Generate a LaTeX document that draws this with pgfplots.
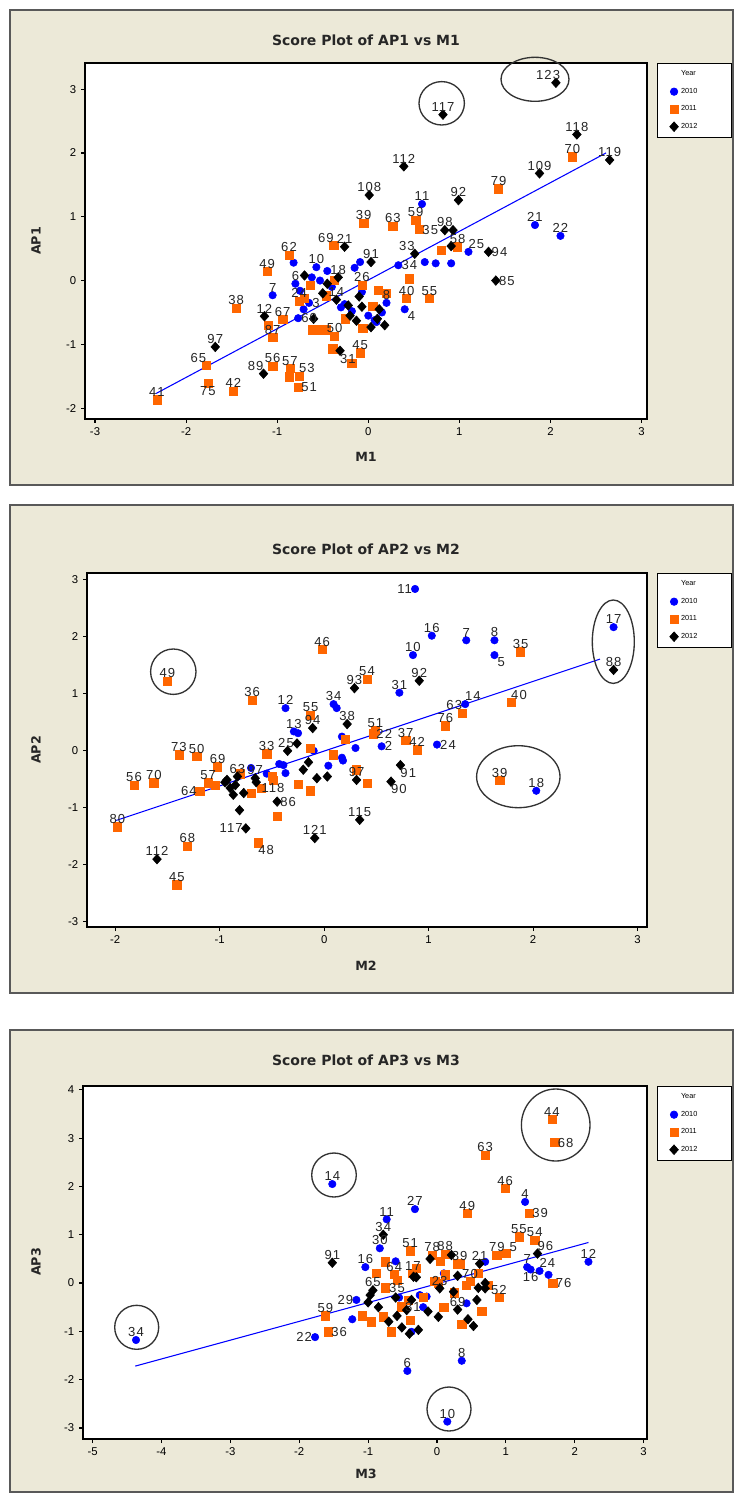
\documentclass[border=0pt]{standalone}
\usepackage{fontspec}
\setmainfont{Liberation Sans}
\newfontfamily\labfont{Liberation Sans}[LetterSpace=8]
\newfontfamily\ttlfont{DejaVu Sans}
\usepackage{pgfplots}
\pgfplotsset{compat=1.18}
\usepackage{pgfplotstable}
\definecolor{mtblue}{RGB}{0,0,255}
\definecolor{mtorange}{RGB}{255,102,0}
\definecolor{framebg}{RGB}{236,233,216}

% label anchor column a: angle of the anchor on the label border
% -90 = label above, 180 = label right, 0 = label left, 90 = label below

% ---------------- Panel 1 data ----------------
\pgfplotstableread{
x y l a
0.59 1.20 11 -90
1.83 0.87 21 -90
2.11 0.70 22 -90
1.10 0.45 25 -135
0.40 -0.45 4 135
-1.05 -0.23 7 -90
0.62 0.29 {} -90
0.74 0.27 {} -90
0.91 0.27 {} -90
0.33 0.24 34 180
-0.09 0.29 {} -90
-0.07 -0.18 {} -90
-0.82 0.28 {} -90
-0.75 -0.16 {} -90
-0.71 -0.45 {} -90
-0.77 -0.59 60 180
-0.57 0.21 10 -90
-0.53 0.00 {} -90
-0.26 -0.37 {} -90
0.07 -0.62 {} -90
0.09 -0.65 {} -90
-0.30 -0.42 {} -90
-0.18 -0.48 {} -90
-0.45 0.15 {} -90
-0.62 0.05 {} -90
0.15 -0.50 {} -90
-0.80 -0.05 6 -90
-0.65 -0.35 3 180
-0.40 -0.10 {} -90
0.00 -0.55 {} -90
-0.15 0.20 {} -90
0.20 -0.35 8 -90
}\pAten
\pgfplotstableread{
x y l a
2.24 1.94 70 -90
1.43 1.44 79 -90
-0.05 0.90 39 -90
0.27 0.85 63 -90
0.52 0.95 59 -90
0.56 0.80 35 180
0.80 0.48 {} -90
0.98 0.53 58 -90
0.42 -0.28 40 -90
0.67 -0.28 55 -90
0.45 0.03 {} -90
0.11 -0.15 {} -90
-0.07 -0.07 26 -90
-0.06 -0.75 {} -90
-0.09 -1.13 45 -90
-0.18 -1.30 {} -90
-0.39 -1.06 {} -90
-2.32 -1.87 41 -90
-1.76 -1.61 75 90
-1.78 -1.33 65 -45
-1.48 -1.73 42 -90
-1.45 -0.43 38 -90
-1.05 -1.34 56 -90
-0.87 -1.51 {} -90
-0.86 -1.38 57 -90
-0.77 -1.67 51 180
-0.76 -1.50 53 -135
-1.05 -0.89 87 -90
-1.10 -0.70 {} -90
-1.11 0.14 49 -90
-0.94 -0.61 67 -90
-0.87 0.40 62 -90
-0.76 -0.32 24 -90
-0.64 -0.07 {} -90
-0.46 -0.24 {} -90
-0.37 0.01 {} -90
-0.38 0.55 69 -45
-0.61 -0.77 {} -90
-0.53 -0.77 {} -90
-0.46 -0.77 {} -90
-0.37 -0.87 50 -90
-0.39 -1.08 {} -90
-0.70 -0.28 {} -90
0.20 -0.20 {} -90
-0.25 -0.60 {} -90
0.05 -0.40 {} -90
}\pAeleven
\pgfplotstableread{
x y l a
2.06 3.10 123 -45
0.82 2.60 117 -90
2.29 2.29 118 -90
2.65 1.89 119 -90
1.88 1.68 109 -90
0.39 1.79 112 -90
0.01 1.34 108 -90
0.99 1.26 92 -90
0.84 0.79 98 -90
0.93 0.79 {} -90
1.32 0.45 94 180
1.40 0.00 85 180
0.51 0.42 33 -45
0.91 0.54 {} -90
0.03 0.29 91 -90
-0.26 0.53 21 -90
-1.68 -1.04 97 -90
-1.15 -1.46 89 -45
-1.14 -0.56 12 -90
-0.70 0.08 {} -90
-0.31 -1.10 31 135
-0.13 -0.63 {} -90
0.03 -0.73 {} -90
-0.07 -0.41 {} -90
-0.22 -0.39 {} -90
-0.45 -0.05 {} -90
-0.35 -0.30 14 -90
-0.20 -0.55 {} -90
0.12 -0.45 {} -90
0.18 -0.70 {} -90
-0.33 0.05 18 -90
-0.50 -0.20 {} -90
-0.10 -0.25 {} -90
0.10 -0.60 {} -90
-0.60 -0.60 {} -90
}\pAtwelve

% ---------------- Panel 2 data ----------------
\pgfplotstableread{
x y l a
0.87 2.84 11 0
1.03 2.02 16 -90
1.36 1.94 7 -90
1.63 1.94 8 -90
1.63 1.68 5 135
0.85 1.68 10 -90
2.77 2.17 17 -90
0.72 1.02 31 -90
1.35 0.82 14 -135
0.55 0.08 2 180
1.08 0.11 24 180
2.03 -0.70 18 -90
-0.37 0.75 12 -90
0.09 0.82 34 -90
0.12 0.75 {} -90
-0.29 0.34 13 -90
-0.25 0.31 {} -90
0.17 0.25 {} -90
0.17 -0.12 {} -90
-0.37 -0.39 {} -90
-0.43 -0.23 {} -90
-0.39 -0.25 {} -90
0.04 -0.26 {} -90
0.18 -0.17 {} -90
-0.10 0.00 {} -90
-0.55 -0.40 {} -90
0.30 0.05 {} -90
-0.70 -0.30 {} -90
}\pBten
\pgfplotstableread{
x y l a
-1.50 1.22 49 -90
-0.02 1.78 46 -90
-0.69 0.89 36 -90
0.41 1.26 54 -90
-0.13 0.63 55 -90
0.49 0.36 51 -90
0.47 0.30 22 180
0.78 0.18 37 -90
0.89 0.02 42 -90
1.16 0.44 76 -90
1.32 0.66 63 -45
1.79 0.85 40 -135
1.88 1.74 35 -90
1.68 -0.52 39 -90
-1.98 -1.33 80 -90
-1.82 -0.60 56 -90
-1.63 -0.56 70 -90
-1.39 -0.07 73 -90
-1.22 -0.10 50 -90
-1.11 -0.56 57 -90
-1.04 -0.60 {} -90
-1.02 -0.28 69 -90
-1.19 -0.71 64 0
-1.31 -1.67 68 -90
-1.41 -2.35 45 -90
-0.63 -1.61 48 135
-0.45 -1.15 {} -90
-0.49 -0.51 118 90
-0.13 -0.70 {} -90
-0.25 -0.58 {} -90
-0.50 -0.45 {} -90
0.41 -0.57 {} -90
0.31 -0.33 {} -90
-0.13 0.05 {} -90
0.09 -0.07 {} -90
-0.70 -0.75 {} -90
-0.55 -0.05 33 -90
0.20 0.20 {} -90
-0.80 -0.40 {} -90
-0.60 -0.65 {} -90
}\pBeleven
\pgfplotstableread{
x y l a
2.77 1.42 88 -90
0.91 1.23 92 -90
0.29 1.10 93 -90
0.22 0.47 38 -90
-0.11 0.40 94 -90
0.73 -0.25 91 135
0.64 -0.54 90 135
0.34 -1.21 115 -90
0.31 -0.51 97 -90
-1.60 -1.90 112 -90
-0.75 -1.36 117 0
-0.09 -1.53 121 -90
-0.45 -0.89 86 180
-0.93 -0.51 {} -90
-0.83 -0.45 63 -90
-0.66 -0.48 97 -90
-0.87 -0.77 {} -90
-0.77 -0.74 {} -90
-0.81 -1.04 {} -90
-0.85 -0.60 {} -90
-0.95 -0.55 {} -90
-0.26 0.13 25 0
-0.20 -0.33 {} -90
-0.07 -0.48 {} -90
0.03 -0.45 {} -90
-0.35 0.00 {} -90
-0.15 -0.20 {} -90
-0.90 -0.65 {} -90
-0.65 -0.55 {} -90
}\pBtwelve

% ---------------- Panel 3 data ----------------
\pgfplotstableread{
x y l a
-1.52 2.05 14 -90
-4.37 -1.18 34 -90
0.15 -2.87 10 -90
-0.43 -1.82 6 -90
0.36 -1.61 8 -90
-0.32 1.53 27 -90
-0.73 1.32 11 -90
1.28 1.68 4 -90
1.31 0.33 7 -90
1.36 0.28 16 90
2.20 0.44 12 -90
1.49 0.25 24 -135
1.62 0.17 {} -90
-1.77 -1.12 22 0
-1.23 -0.75 {} -90
-1.04 0.33 16 -90
-0.83 0.72 30 -90
-0.37 -1.01 {} -90
0.43 -0.42 {} -90
0.70 0.44 {} -90
-0.20 -0.50 {} -90
0.10 0.20 {} -90
-0.55 -0.30 {} -90
-0.60 0.45 {} -90
-1.17 -0.35 29 0
-0.25 -0.25 {} -90
-0.15 -0.28 {} -90
}\pCten
\pgfplotstableread{
x y l a
1.67 3.39 44 -90
1.71 2.91 68 180
0.70 2.65 63 -90
0.99 1.96 46 -90
1.34 1.44 39 180
0.44 1.44 49 -90
-0.39 0.67 51 -90
1.19 0.96 55 -90
1.42 0.89 54 -90
0.87 0.58 79 -90
1.01 0.61 5 -135
1.68 0.00 76 180
0.90 -0.30 52 -90
0.36 -0.85 {} -90
0.65 -0.59 {} -90
-1.58 -1.01 36 180
-1.62 -0.68 59 -90
-1.08 -0.68 {} -90
-0.95 -0.80 {} -90
-0.66 -1.01 {} -90
-0.39 -0.77 {} -90
-0.58 0.06 35 90
0.02 0.00 {} -90
0.43 -0.04 {} -90
-0.88 0.20 {} -90
-0.75 -0.10 {} -90
-0.30 0.30 {} -90
-0.07 0.58 78 -90
0.05 0.45 {} -90
0.25 -0.20 {} -90
-0.35 0.20 17 -90
0.60 0.20 {} -90
0.75 -0.05 {} -90
-0.20 -0.30 {} -90
0.10 -0.50 {} -90
-0.50 -0.50 {} -90
0.30 0.40 {} -90
-0.62 0.18 64 -90
-0.75 0.44 {} -90
-0.78 -0.70 {} -90
-0.42 -0.35 {} -90
-0.51 -0.49 31 180
0.12 0.60 88 -90
0.12 0.17 {} -90
-0.03 0.03 {} -90
0.33 0.40 39 -90
0.48 0.03 70 -90
}\pCeleven
\pgfplotstableread{
x y l a
-1.52 0.42 91 -90
1.46 0.61 96 -135
-0.78 1.00 34 -90
0.70 0.00 {} -90
0.58 -0.35 {} -90
0.53 -0.89 {} -90
-0.51 -0.92 {} -90
-0.27 -0.97 {} -90
-0.44 -0.56 {} -90
-0.13 -0.59 {} -90
0.02 -0.70 {} -90
-0.34 0.13 {} -90
0.24 -0.18 {} -90
-0.97 -0.25 {} -90
-1.00 -0.40 {} -90
-0.85 -0.50 {} -90
-0.60 -0.30 {} -90
0.21 0.58 {} -90
0.62 0.40 21 -90
0.30 0.15 {} -90
-0.10 0.50 {} -90
0.60 -0.10 {} -90
-0.70 -0.80 {} -90
-0.40 -1.05 {} -90
0.45 -0.75 {} -90
-0.30 0.12 {} -90
-0.93 -0.15 65 -90
-0.58 -0.68 {} -90
-0.37 -0.35 {} -90
0.04 -0.11 23 -90
0.70 -0.11 {} -90
0.30 -0.55 69 -90
}\pCtwelve

\pgfplotsset{
  scoreaxis/.style={
    scale only axis,
    axis background/.style={fill=white},
    axis line style={line width=1.1pt, black},
    tick align=outside, xtick pos=bottom, ytick pos=left,
    major tick length=3pt,
    tick style={black, line width=0.9pt},
    tick label style={font=\fontsize{8.5}{10}\selectfont},
    /pgf/number format/assume math mode=true,
    clip=false,
    legend cell align=left,
    legend style={anchor=north west, draw=black, line width=0.5pt, fill=white,
      font=\fontsize{5.5}{6}\selectfont, row sep=3.8pt, inner xsep=4pt, inner ysep=3.5pt,
      nodes={text width=32pt}},
    legend entries={Year,2010,2011,2012},
  },
  lab/.style={
    forget plot, only marks, mark=none,
    nodes near coords, point meta=explicit symbolic,
    visualization depends on={\thisrow{a} \as \anc},
    every node near coord/.append style={anchor=\anc, font=\labfont\fontsize{9.8}{11}\selectfont,
      text=black!85, inner sep=2.2pt},
  },
  ptten/.style={only marks, mark=*, mark size=2.8pt, mark options={draw=mtblue, fill=mtblue}},
  pteleven/.style={only marks, mark=square*, mark size=3.1pt, mark options={draw=mtorange, fill=mtorange}},
  pttwelve/.style={only marks, mark=diamond*, mark size=3.6pt, mark options={draw=black, fill=black, xscale=1.2}},
}

\begin{document}
\begin{tikzpicture}[x=0.75pt,y=-0.75pt]
\useasboundingbox (0,0) rectangle (740,1499);
\fill[white] (0,0) rectangle (740,1499);
\draw[fill=framebg, draw=black!65, line width=0.8pt] (10,10) rectangle (733,485);
\draw[fill=framebg, draw=black!65, line width=0.8pt] (10,505) rectangle (733,993);
\draw[fill=framebg, draw=black!65, line width=0.8pt] (10,1030) rectangle (733,1492);

\coordinate (PA) at (85,63);
\coordinate (PB) at (87,573);
\coordinate (PC) at (83,1086);

% ---------- Panel 1 ----------
\begin{axis}[scoreaxis, at={(PA)}, anchor=north west, width=421.5pt, height=267pt,
  xmin=-3.11, xmax=3.06, ymin=-2.17, ymax=3.41,
  xtick={-3,...,3}, ytick={-2,...,3},
  legend style={at={(1.0178,1)}}]
\addlegendimage{empty legend}
\addplot[ptten] table[x=x,y=y] {\pAten};
\addplot[pteleven] table[x=x,y=y] {\pAeleven};
\addplot[pttwelve] table[x=x,y=y] {\pAtwelve};
\addplot[mtblue, line width=0.8pt, mark=none, forget plot] coordinates {(-2.33,-1.77) (2.61,2.00)};
\addplot[lab] table[x=x,y=y,meta=l] {\pAten};
\addplot[lab] table[x=x,y=y,meta=l] {\pAeleven};
\addplot[lab] table[x=x,y=y,meta=l] {\pAtwelve};
\end{axis}

% ---------- Panel 2 ----------
\begin{axis}[scoreaxis, at={(PB)}, anchor=north west, width=420pt, height=265.5pt,
  xmin=-2.27, xmax=3.09, ymin=-3.09, ymax=3.12,
  xtick={-2,...,3}, ytick={-3,...,3},
  legend style={at={(1.0179,1)}}]
\addlegendimage{empty legend}
\addplot[ptten] table[x=x,y=y] {\pBten};
\addplot[pteleven] table[x=x,y=y] {\pBeleven};
\addplot[pttwelve] table[x=x,y=y] {\pBtwelve};
\addplot[mtblue, line width=0.8pt, mark=none, forget plot] coordinates {(-1.99,-1.22) (2.64,1.61)};
\addplot[lab] table[x=x,y=y,meta=l] {\pBten};
\addplot[lab] table[x=x,y=y,meta=l] {\pBeleven};
\addplot[lab] table[x=x,y=y,meta=l] {\pBtwelve};
\end{axis}

% ---------- Panel 3 ----------
\begin{axis}[scoreaxis, at={(PC)}, anchor=north west, width=423pt, height=264.75pt,
  xmin=-5.14, xmax=3.05, ymin=-3.23, ymax=4.08,
  xtick={-5,...,3}, ytick={-3,...,4},
  legend style={at={(1.0177,1)}}]
\addlegendimage{empty legend}
\addplot[ptten] table[x=x,y=y] {\pCten};
\addplot[pteleven] table[x=x,y=y] {\pCeleven};
\addplot[pttwelve] table[x=x,y=y] {\pCtwelve};
\addplot[mtblue, line width=0.8pt, mark=none, forget plot] coordinates {(-4.38,-1.72) (2.20,0.84)};
\addplot[lab] table[x=x,y=y,meta=l] {\pCten};
\addplot[lab] table[x=x,y=y,meta=l] {\pCeleven};
\addplot[lab] table[x=x,y=y,meta=l] {\pCtwelve};
\end{axis}

% titles and axis labels
\tikzset{ttl/.style={font=\ttlfont\bfseries\fontsize{10.5}{12}\selectfont, text=black!85},
         axl/.style={font=\ttlfont\bfseries\fontsize{9.5}{11}\selectfont, text=black!85}}
\node[ttl] at (366,40) {Score Plot of AP1 vs M1};
\node[axl] at (366,457) {M1};
\node[axl, rotate=90] at (36,241) {AP1};
\node[ttl] at (366,549) {Score Plot of AP2 vs M2};
\node[axl] at (366,966) {M2};
\node[axl, rotate=90] at (36,750) {AP2};
\node[ttl] at (366,1060) {Score Plot of AP3 vs M3};
\node[axl] at (366,1474) {M3};
\node[axl, rotate=90] at (36,1262) {AP3};

% highlight ellipses
\begin{scope}[line width=1pt, draw=black!80]
\draw (441.7,103.3) ellipse [x radius=22.7, y radius=21.7];
\draw (535,79.3) ellipse [x radius=34, y radius=22];
\draw (173.3,671.7) ellipse [x radius=22.7, y radius=22.7];
\draw (613.3,641.7) ellipse [x radius=21, y radius=41.7];
\draw (518.3,776.7) ellipse [x radius=41.7, y radius=31];
\draw (334,1175) ellipse [x radius=22.3, y radius=22];
\draw (555.7,1125) ellipse [x radius=34.3, y radius=36];
\draw (136.7,1327.3) ellipse [x radius=22, y radius=22];
\draw (449,1409) ellipse [x radius=22, y radius=22];
\end{scope}
\end{tikzpicture}
\end{document}
